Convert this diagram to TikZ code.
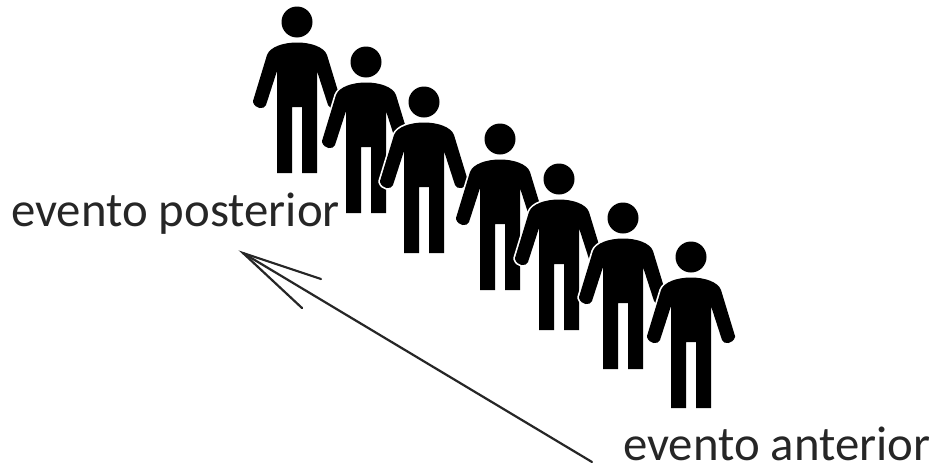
\documentclass[tikz,border=0pt]{standalone}
\usepackage{fontspec}
\setmainfont{Carlito}
\tikzset{
  person/.pic={
    \path[fill=black,preaction={draw=white,line width=3.4pt,line join=round}]
      (-20,151) -- (-20,49) -- (-31,83)
      .. controls (-33,88) and (-42,87) .. (-44,80)
      -- (-44,79) -- (-30,33)
      .. controls (-27,25) and (-14,20.5) .. (0,20.5)
      .. controls (14,20.5) and (27,25) .. (30,33)
      -- (44,79) -- (44,80)
      .. controls (42,87) and (33,88) .. (31,83)
      -- (20,49) -- (20,151) -- (5,151) -- (5,85) -- (-5,85) -- (-5,151) -- cycle;
    \path[fill=black,preaction={draw=white,line width=2.4pt}] (0,0) circle (15.5);
  },
  lbl/.style={font=\fontsize{48.8}{50}\selectfont,inner sep=0pt,anchor=base west,text=black!85},
  arrowline/.style={draw=black!85,line width=2.2pt,line cap=round}
}
\begin{document}
\begin{tikzpicture}[x=1pt,y=-1pt]
\useasboundingbox (0,0) rectangle (931,466);
\fill[white] (0,0) rectangle (931,466);
\pic at (297,22) {person};
\pic at (366,62) {person};
\pic at (424,102) {person};
\pic at (500,139) {person};
\pic at (559,179) {person};
\pic at (623,218) {person};
\pic at (691,257) {person};
\node[lbl] (post) at (11,226) {evento posterior};
\node[lbl] (ant) at (623,460) {evento anterior};
\coordinate (tip) at (243,253);
\coordinate (tail) at (592,462);
\coordinate (barbA) at (321,279);
\coordinate (barbB) at (302,308);
\draw[arrowline] (tail) -- (tip);
\draw[arrowline] (barbA) -- (tip) -- (barbB);
\end{tikzpicture}
\end{document}
